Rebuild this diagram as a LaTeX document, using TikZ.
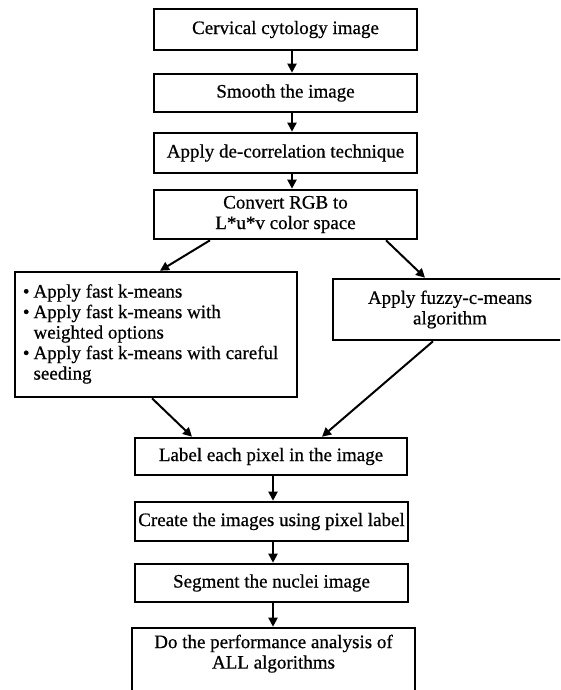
\documentclass[tikz,border=0pt]{standalone}
\usepackage{fontspec}
\setmainfont{Liberation Serif}[FakeBold=0.6]
\usetikzlibrary{arrows.meta}
\begin{document}
\begin{tikzpicture}[x=1pt,y=-1pt,
  box/.style={draw=black, line width=2.6pt, inner sep=0pt, align=center,
    font=\fontsize{19}{20.5}\selectfont},
  txt/.style={inner sep=0pt, align=center, font=\fontsize{19}{20.5}\selectfont},
  arr/.style={draw=black, line width=2pt, -{Triangle[length=9pt,width=9pt]}}]
\useasboundingbox (0,0) rectangle (560,690);
\clip (0,0) rectangle (560,690);
\fill[white] (0,0) rectangle (560,690);
% main column
\node[box, minimum width=263pt, minimum height=41pt] (b1) at (285.5,29.5) {Cervical cytology image};
\node[box, minimum width=263pt, minimum height=38pt] (b2) at (285.5,93) {Smooth the image};
\node[box, minimum width=263pt, minimum height=40pt] (b3) at (285.5,153) {Apply de-correlation technique};
\node[box, minimum width=263pt, minimum height=49pt] (b4) at (285.5,214.5) {Convert RGB to\\L*u*v color space};
% branches
\node[box, minimum width=282pt, minimum height=125pt] (L) at (156,334.5) {};
\node[txt, anchor=west] (Lt) at ([xshift=9pt]L.west) {%
  \begin{tabular}{@{}l@{\hspace{4pt}}l@{}}
  \textbullet & Apply fast k-means\\
  \textbullet & Apply fast k-means with\\
   & weighted options\\
  \textbullet & Apply fast k-means with careful\\
   & seeding
  \end{tabular}};
\node[box, minimum width=234pt, minimum height=61pt] (R) at (450,309.5) {Apply fuzzy-c-means\\algorithm};
% lower column
\node[box, minimum width=272pt, minimum height=37pt] (b5) at (271,456.5) {Label each pixel in the image};
\node[box, minimum width=273pt, minimum height=39pt] (b6) at (271.5,521.5) {Create the images using pixel label};
\node[box, minimum width=273pt, minimum height=38pt] (b7) at (271.5,583) {Segment the nuclei image};
\node[box, minimum width=283pt, minimum height=64pt] (b8) at (273.5,660) {};
\node[txt] (b8t) at ([yshift=-27pt]b8.north) {Do the performance analysis of\\ALL algorithms};
% arrows
\draw[arr] ([xshift=6.5pt]b1.south) -- ([xshift=6.5pt]b2.north);
\draw[arr] ([xshift=6.5pt]b2.south) -- ([xshift=6.5pt]b3.north);
\draw[arr] ([xshift=6.5pt]b3.south) -- ([xshift=6.5pt]b4.north);
\draw[arr] ([xshift=-75.5pt]b4.south) -- ([xshift=4pt]L.north);
\draw[arr] ([xshift=100.5pt]b4.south) -- ([xshift=-25pt]R.north);
\draw[arr] ([xshift=-4pt]L.south) -- ([xshift=-79pt]b5.north);
\draw[arr] ([xshift=-17pt]R.south) -- ([xshift=51pt]b5.north);
\draw[arr] ([xshift=2pt]b5.south) -- ([xshift=1.5pt]b6.north);
\draw[arr] ([xshift=1.5pt]b6.south) -- ([xshift=1.5pt]b7.north);
\draw[arr] ([xshift=1.5pt]b7.south) -- ([xshift=-0.5pt]b8.north);
\end{tikzpicture}
\end{document}
